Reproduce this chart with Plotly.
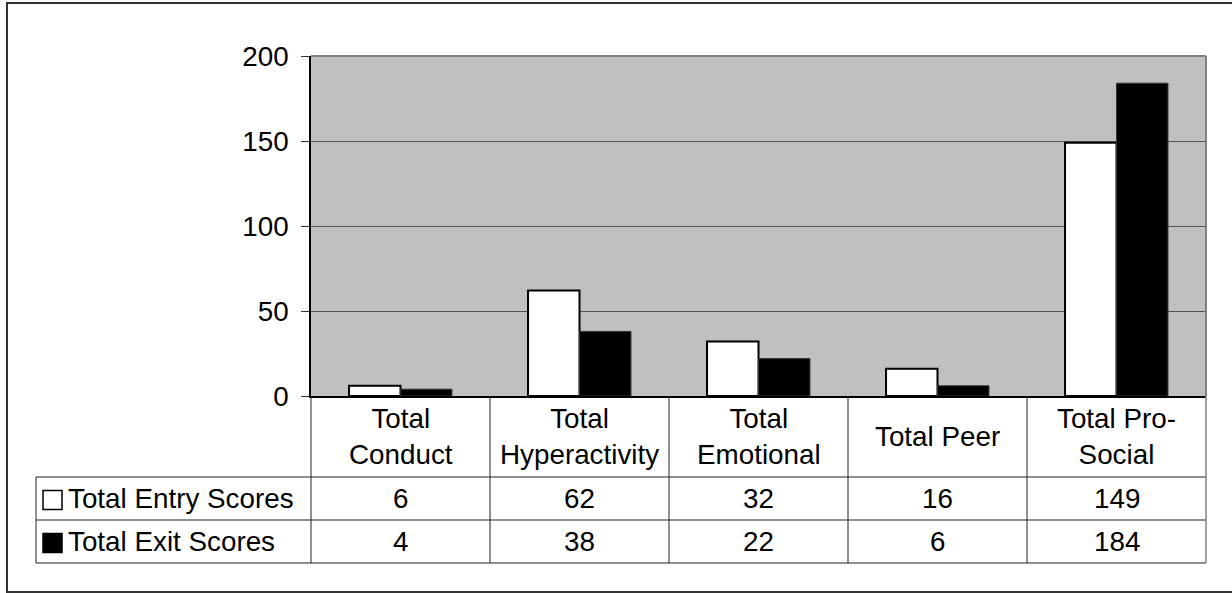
import plotly.graph_objects as go

# ---- data ----
categories = ["Total Conduct", "Total Hyperactivity", "Total Emotional", "Total Peer", "Total Pro-Social"]
header_labels = ["Total<br>Conduct", "Total<br>Hyperactivity", "Total<br>Emotional", "Total Peer", "Total Pro-<br>Social"]
series_names = ["Total Entry Scores", "Total Exit Scores"]
entry_scores = [6, 62, 32, 16, 149]
exit_scores = [4, 38, 22, 6, 184]
y_ticks = [0, 50, 100, 150, 200]

W, H = 1232, 593
FONT = "Liberation Sans, Arial, sans-serif"
FS = 27.8

def px(x):
    return x / W

def py(y):
    return 1 - y / H

# layout geometry (pixels)
PL, PR, PT, PB = 311, 1206, 56, 396
ROW_HDR_B, ROW1_B, ROW2_B = 477, 520, 563
TABLE_L = 36

fig = go.Figure()
fig.add_trace(go.Bar(
    x=categories, y=entry_scores, name=series_names[0],
    marker=dict(color="white", line=dict(color="black", width=2)),
))
fig.add_trace(go.Bar(
    x=categories, y=exit_scores, name=series_names[1],
    marker=dict(color="black", line=dict(color="#333333", width=1)),
))

shapes = []
line_col = "#222222"
# outer frame
shapes.append(dict(type="rect", xref="paper", yref="paper",
                   x0=px(7), x1=px(1245), y0=py(3), y1=py(592),
                   line=dict(color="#333333", width=2), layer="below"))
# plot area top/right border
shapes.append(dict(type="line", xref="paper", yref="paper",
                   x0=px(PL), x1=px(PR), y0=py(PT), y1=py(PT),
                   line=dict(color="#808080", width=2)))
shapes.append(dict(type="line", xref="paper", yref="paper",
                   x0=px(PR), x1=px(PR), y0=py(PT), y1=py(PB),
                   line=dict(color="#808080", width=2)))
# table horizontal lines
for yy in [ROW_HDR_B, ROW1_B, ROW2_B]:
    shapes.append(dict(type="line", xref="paper", yref="paper",
                       x0=px(TABLE_L), x1=px(PR), y0=py(yy), y1=py(yy),
                       line=dict(color=line_col, width=1)))
# table vertical lines
band = (PR - PL) / len(categories)
for i in range(len(categories) + 1):
    xx = PL + i * band
    col = "#808080" if i == len(categories) else line_col
    shapes.append(dict(type="line", xref="paper", yref="paper",
                       x0=px(xx), x1=px(xx), y0=py(PB), y1=py(ROW2_B),
                       line=dict(color=col, width=1.5 if i == len(categories) else 1)))
shapes.append(dict(type="line", xref="paper", yref="paper",
                   x0=px(TABLE_L), x1=px(TABLE_L), y0=py(ROW_HDR_B), y1=py(ROW2_B),
                   line=dict(color=line_col, width=1)))
# legend keys
r1c = (ROW_HDR_B + ROW1_B) / 2
r2c = (ROW1_B + ROW2_B) / 2
kw, kh, koff = 19, 19, 1.5
shapes.append(dict(type="rect", xref="paper", yref="paper",
                   x0=px(43), x1=px(43 + kw), y0=py(r1c + koff - kh / 2), y1=py(r1c + koff + kh / 2),
                   fillcolor="white", line=dict(color="black", width=1.5)))
shapes.append(dict(type="rect", xref="paper", yref="paper",
                   x0=px(43), x1=px(43 + kw), y0=py(r2c + koff - kh / 2), y1=py(r2c + koff + kh / 2),
                   fillcolor="black", line=dict(color="black", width=1.5)))

annotations = []
hdr_c = (PB + ROW_HDR_B) / 2
for cat, lab, e, x in zip(categories, header_labels, entry_scores, exit_scores):
    annotations.append(dict(x=cat, xref="x", y=py(hdr_c), yref="paper", text=lab,
                            showarrow=False, xanchor="center", yanchor="middle",
                            font=dict(size=FS, color="black", family=FONT)))
    annotations.append(dict(x=cat, xref="x", y=py(r1c), yref="paper", text=str(e),
                            showarrow=False, xanchor="center", yanchor="middle",
                            font=dict(size=FS, color="black", family=FONT)))
    annotations.append(dict(x=cat, xref="x", y=py(r2c), yref="paper", text=str(x),
                            showarrow=False, xanchor="center", yanchor="middle",
                            font=dict(size=FS, color="black", family=FONT)))
for name, yc in zip(series_names, [r1c, r2c]):
    annotations.append(dict(x=px(66), xref="paper", y=py(yc), yref="paper", text=name,
                            showarrow=False, xanchor="left", yanchor="middle",
                            font=dict(size=FS, color="black", family=FONT)))

fig.update_layout(
    width=W, height=H,
    margin=dict(l=0, r=0, t=0, b=0, pad=0, autoexpand=False),
    paper_bgcolor="white",
    plot_bgcolor="#C0C0C0",
    barmode="group",
    bargap=0.425,
    bargroupgap=0,
    showlegend=False,
    font=dict(family=FONT, size=FS, color="black"),
    xaxis=dict(domain=[px(PL), px(PR)], type="category", showticklabels=False,
               ticks="", showgrid=False, showline=True, linecolor="black", linewidth=1.5,
               zeroline=False, fixedrange=True, automargin=False),
    yaxis=dict(domain=[py(PB), py(PT)], range=[0, 200], tickvals=y_ticks,
               ticks="outside", ticklen=8, tickcolor="#333333", tickwidth=1,
               showline=True, linecolor="black", linewidth=1.5,
               showgrid=True, gridcolor="#555555", gridwidth=1,
               zeroline=False, ticklabelstandoff=7, automargin=False,
               tickfont=dict(size=FS, color="black", family=FONT), fixedrange=True),
    shapes=shapes,
    annotations=annotations,
)

fig.write_html("out.html", config={"displayModeBar": False},
               post_script="document.body.style.margin='0';document.body.style.overflow='hidden';")
